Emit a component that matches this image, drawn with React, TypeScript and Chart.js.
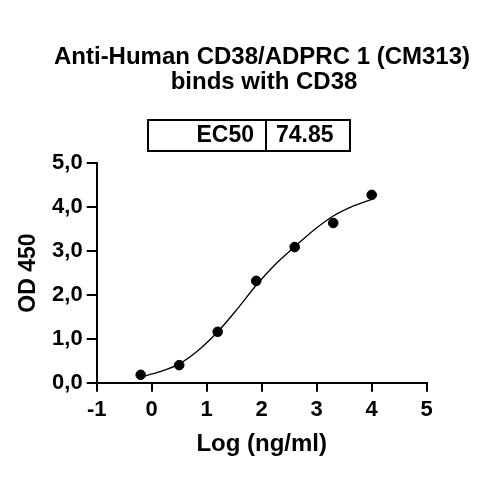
import React, { useEffect, useRef } from 'react';
import { Chart, registerables } from 'chart.js';

Chart.register(...registerables);

const titleLines = ['Anti-Human CD38/ADPRC 1 (CM313)', 'binds with CD38'];
const ec50Label = 'EC50';
const ec50Value = '74.85';

// measured points
const logConc = [-0.2, 0.5, 1.2, 1.9, 2.6, 3.3, 4.0];
const od450 = [0.18, 0.4, 1.16, 2.32, 3.09, 3.64, 4.28];

// fitted curve
const curveX = [-0.2, 0.15, 0.5, 0.85, 1.2, 1.55, 1.9, 2.25, 2.6, 2.95, 3.3, 3.65, 4.0];
const curveY = [0.13, 0.25, 0.43, 0.74, 1.16, 1.67, 2.22, 2.7, 3.1, 3.48, 3.8, 4.02, 4.18];

const xTicks = [-1, 0, 1, 2, 3, 4, 5];
const yTicks = [0, 1, 2, 3, 4, 5];

const FONT = '"Liberation Sans", Arial, sans-serif';

const headerPlugin = {
  id: 'header',
  afterDraw(chart: Chart) {
    const ctx = chart.ctx;
    ctx.save();
    ctx.fillStyle = '#000';
    ctx.textAlign = 'center';
    ctx.textBaseline = 'middle';
    ctx.font = `bold 24px ${FONT}`;
    ctx.fillText(titleLines[0], 262, 57);
    ctx.fillText(titleLines[1], 264, 82);

    // EC50 table
    ctx.strokeStyle = '#000';
    ctx.lineWidth = 2;
    ctx.strokeRect(148, 120, 202, 31);
    ctx.beginPath();
    ctx.moveTo(266, 120);
    ctx.lineTo(266, 151);
    ctx.stroke();
    ctx.font = `bold 23px ${FONT}`;
    ctx.textAlign = 'right';
    ctx.fillText(ec50Label, 254, 135.5);
    ctx.textAlign = 'left';
    ctx.fillText(ec50Value, 276, 135.5);
    ctx.restore();
  },
};

const App: React.FC = () => {
  const canvasRef = useRef<HTMLCanvasElement>(null);
  const chartRef = useRef<Chart | null>(null);

  useEffect(() => {
    if (!canvasRef.current) return;
    if (chartRef.current) chartRef.current.destroy();

    chartRef.current = new Chart(canvasRef.current, {
      type: 'scatter',
      data: {
        datasets: [
          {
            label: 'fit',
            data: curveX.map((x, i) => ({ x, y: curveY[i] })),
            showLine: true,
            cubicInterpolationMode: 'monotone',
            borderColor: '#000',
            borderWidth: 1.3,
            pointRadius: 0,
          },
          {
            label: 'OD',
            data: logConc.map((x, i) => ({ x, y: od450[i] })),
            backgroundColor: '#000',
            borderColor: '#000',
            pointRadius: 4.8,
          },
        ],
      },
      options: {
        responsive: false,
        animation: false,
        layout: { padding: { left: 0, right: 73.3, top: 163.3, bottom: 37.3 } },
        plugins: { legend: { display: false }, tooltip: { enabled: false }, title: { display: false } },
        scales: {
          x: {
            type: 'linear',
            min: -1,
            max: 5,
            afterFit: (s: any) => { s.height = 80; },
            afterBuildTicks: (s: any) => { s.ticks = xTicks.map((v) => ({ value: v })); },
            border: { display: true, color: '#000', width: 2 },
            grid: { drawOnChartArea: false, drawTicks: true, tickLength: 9, color: '#000', lineWidth: 2 },
            ticks: {
              color: '#000',
              padding: 5,
              font: { family: FONT, size: 22, weight: 'bold' },
              callback: (v: any) => String(v),
            },
            title: {
              display: true,
              text: 'Log (ng/ml)',
              color: '#000',
              padding: { top: 0, bottom: 4 },
              font: { family: FONT, size: 24, weight: 'bold' },
            },
          },
          y: {
            type: 'linear',
            min: 0,
            max: 5,
            afterFit: (s: any) => { s.width = 96.7; },
            afterBuildTicks: (s: any) => { s.ticks = yTicks.map((v) => ({ value: v })); },
            border: { display: true, color: '#000', width: 2 },
            grid: { drawOnChartArea: false, drawTicks: true, tickLength: 10, color: '#000', lineWidth: 2 },
            ticks: {
              color: '#000',
              padding: 4,
              font: { family: FONT, size: 22, weight: 'bold' },
              callback: (v: any) => Number(v).toFixed(1).replace('.', ','),
            },
            title: {
              display: true,
              text: 'OD 450',
              color: '#000',
              padding: { top: 15, bottom: 0 },
              font: { family: FONT, size: 23, weight: 'bold' },
            },
          },
        },
      },
      plugins: [headerPlugin],
    });

    return () => {
      if (chartRef.current) {
        chartRef.current.destroy();
        chartRef.current = null;
      }
    };
  }, []);

  return (
    <div style={{ position: 'absolute', left: 0, top: 0, width: 500, height: 500, background: '#fff' }}>
      <canvas ref={canvasRef} width={500} height={500} />
    </div>
  );
};

export default App;
